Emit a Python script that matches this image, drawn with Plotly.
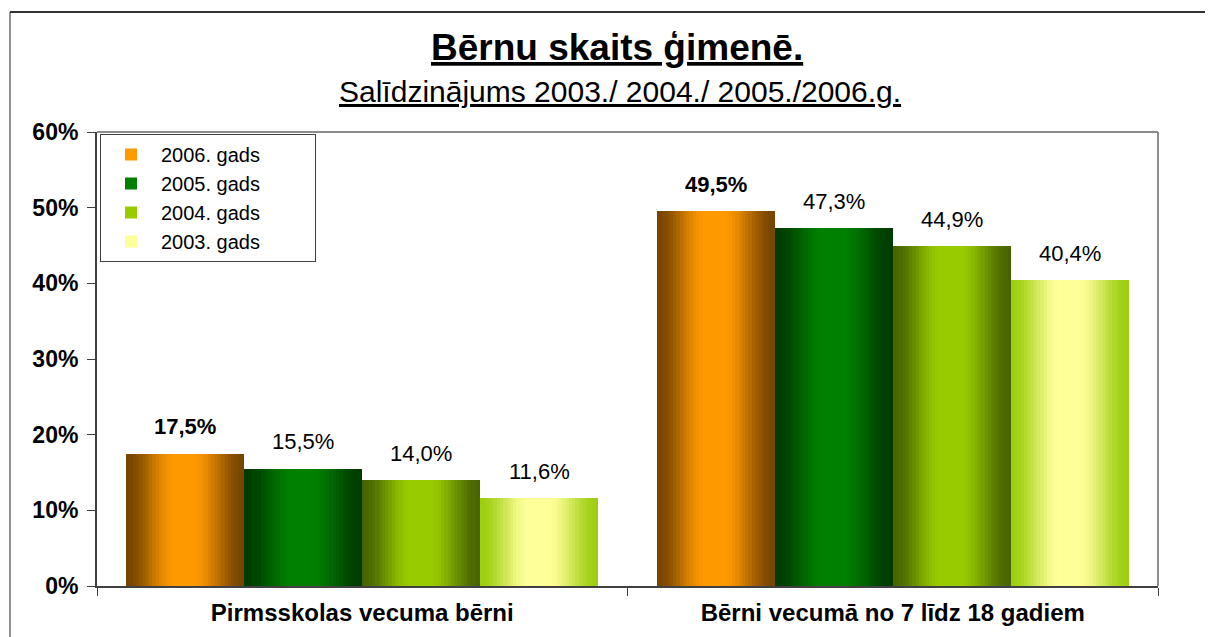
import plotly.graph_objects as go

# ---------------- data ----------------
categories = ["Pirmsskolas vecuma bērni", "Bērni vecumā no 7 līdz 18 gadiem"]
series_names = ["2006. gads", "2005. gads", "2004. gads", "2003. gads"]
values_2006 = [17.5, 49.5]
values_2005 = [15.5, 47.3]
values_2004 = [14.0, 44.9]
values_2003 = [11.6, 40.4]
y_tick_values = [0, 10, 20, 30, 40, 50, 60]
y_tick_labels = ["0%", "10%", "20%", "30%", "40%", "50%", "60%"]

series_values = [values_2006, values_2005, values_2004, values_2003]
label_bold = [True, False, False, False]

# ---------------- style ----------------
FONT = "Liberation Sans, Arial, sans-serif"
W, H = 1213, 637
OFF = 8  # page body margin
ML, MR, MT, MB = 97 - OFF, 55 + OFF, 132 - OFF, 51 + OFF
PW, PH = W - ML - MR, H - MT - MB

def px_x(p):  # page pixel x -> paper
    return (p - OFF - ML) / PW

def px_y(p):  # page pixel y -> paper
    return (H - MB - (p - OFF)) / PH

# gradient (edge colour, peak colour) per series
grad_colors = [
    ("#774500", "#ff9900"),
    ("#003c00", "#008000"),
    ("#486400", "#99cc00"),
    ("#9dcf10", "#ffff99"),
]

def hex2rgb(h):
    h = h.lstrip("#")
    return tuple(int(h[i:i + 2], 16) for i in (0, 2, 4))

def mix(c1, c2, f):
    a, b = hex2rgb(c1), hex2rgb(c2)
    return "rgb(%d,%d,%d)" % tuple(round(a[i] + (b[i] - a[i]) * f) for i in range(3))

def profile(t):
    if t < 0.42:
        u = t / 0.42
    elif t < 0.56:
        u = 1.0
    else:
        u = (1 - t) / 0.44
    return u * u * (3 - 2 * u)

group_width = 0.89
bar_w = group_width / len(series_names)
N = 36
strip_w = bar_w / N
MID = N // 2
LEGEND_PAD = "\u00a0" * 9  # widens the legend box like the original

fig = go.Figure()
for si, (name, vals) in enumerate(zip(series_names, series_values)):
    edge, peak = grad_colors[si]
    start = -group_width / 2 + si * bar_w
    for k in range(N):
        t = (k + 0.5) / N
        fig.add_trace(go.Bar(
            x=categories, y=vals,
            offset=start + k * strip_w,
            width=bar_w - k * strip_w,
            marker=dict(color=mix(edge, peak, profile(t)), line=dict(width=0)),
            name=name + LEGEND_PAD,
            legendgroup=name,
            showlegend=(k == MID),
            hoverinfo="skip" if k != MID else None,
        ))

# data labels
for si, vals in enumerate(series_values):
    center = -group_width / 2 + (si + 0.5) * bar_w
    for ci, v in enumerate(vals):
        txt = ("%.1f%%" % v).replace(".", ",")
        if label_bold[si]:
            txt = "<b>" + txt + "</b>"
        fig.add_annotation(
            x=ci + center, y=v, xref="x", yref="y",
            text=txt, showarrow=False, yanchor="middle", yshift=27,
            font=dict(family=FONT, size=22, color="black"),
        )

# titles
fig.add_annotation(
    xref="paper", yref="paper", x=px_x(617), y=px_y(48),
    text="<b><u>Bērnu skaits ģimenē.</u></b>", showarrow=False,
    xanchor="center", yanchor="middle",
    font=dict(family=FONT, size=37, color="black"),
)
fig.add_annotation(
    xref="paper", yref="paper", x=px_x(620), y=px_y(91),
    text="<u>Salīdzinājums 2003./ 2004./ 2005./2006.g.</u>", showarrow=False,
    xanchor="center", yanchor="middle",
    font=dict(family=FONT, size=30, color="black"),
)

# plot area top/right border and outer chart border
shapes = [
    dict(type="line", xref="paper", yref="paper", x0=0, x1=1, y0=1, y1=1,
         line=dict(color="#8c8c8c", width=2)),
    dict(type="line", xref="paper", yref="paper", x0=1, x1=1, y0=0, y1=1,
         line=dict(color="#8c8c8c", width=2)),
    dict(type="line", xref="paper", yref="paper",
         x0=px_x(10), x1=px_x(W + 10), y0=px_y(12), y1=px_y(12),
         line=dict(color="#333333", width=2)),
    dict(type="line", xref="paper", yref="paper",
         x0=px_x(10), x1=px_x(10), y0=px_y(12), y1=px_y(H + 10),
         line=dict(color="#222222", width=1)),
]

fig.update_layout(
    width=W, height=H, autosize=False,
    margin=dict(l=ML, r=MR, t=MT, b=MB, pad=0),
    paper_bgcolor="white", plot_bgcolor="white",
    barmode="overlay", bargap=0,
    shapes=shapes,
    showlegend=True,
    legend=dict(
        x=px_x(100), y=px_y(134), xanchor="left", yanchor="top",
        bgcolor="white", bordercolor="#404040", borderwidth=1,
        font=dict(family=FONT, size=20, color="black"),
        traceorder="normal", itemwidth=50, tracegroupgap=0,
    ),
    font=dict(family=FONT, color="black"),
)
fig.update_xaxes(
    type="category", categoryorder="array", categoryarray=categories,
    range=[-0.5, 1.5],
    showline=True, linecolor="#404040", linewidth=2,
    ticks="outside", tickson="boundaries", ticklen=8, tickcolor="#404040",
    tickwidth=1, showgrid=False, zeroline=False,
    tickfont=dict(family=FONT, size=24, color="black", weight="bold"),
    ticklabelstandoff=4,
)
fig.update_yaxes(
    range=[0, 60], tickvals=y_tick_values, ticktext=y_tick_labels,
    showline=True, linecolor="#404040", linewidth=2,
    ticks="outside", ticklen=8, tickcolor="#404040", tickwidth=1,
    showgrid=False, zeroline=False,
    tickfont=dict(family=FONT, size=23, color="black", weight="bold"),
    ticklabelstandoff=4,
)

fig.write_html("out.html")
